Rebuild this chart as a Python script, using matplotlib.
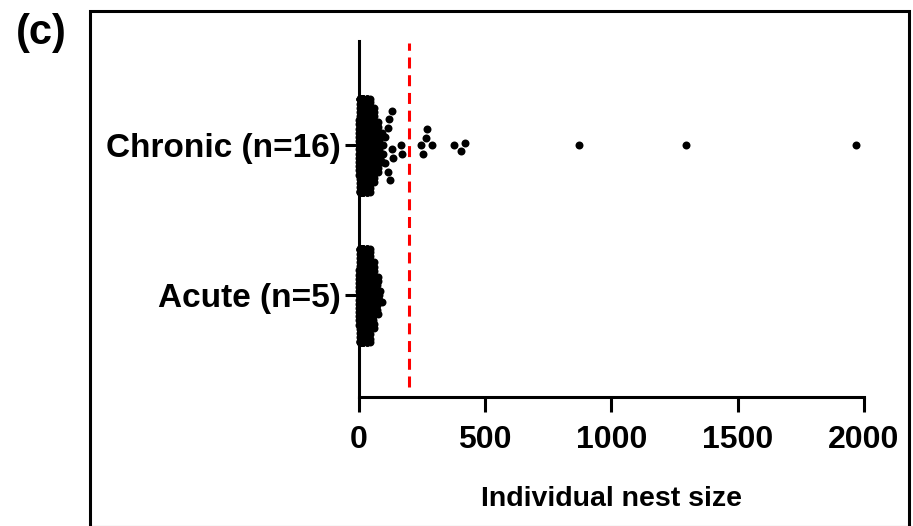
import numpy as np
import matplotlib

matplotlib.use("Agg")
import matplotlib.pyplot as plt

# Individual nest sizes per colony type (value, number of nests with that size)
group_labels = ["Acute (n=5)", "Chronic (n=16)"]

acute_values = [2, 5, 8, 12, 16, 20, 25, 30, 35, 40, 45, 50, 55, 60, 65, 70, 75, 80, 85, 92]
acute_counts = [14, 14, 13, 12, 12, 11, 10, 10, 9, 8, 7, 6, 6, 5, 4, 3, 3, 2, 1, 1]

chronic_values = [
    2, 5, 8, 12, 16, 20, 25, 30, 35, 40, 45, 50, 55, 60, 65, 70, 75, 80, 85, 90,
    96, 104, 114, 119, 123, 129, 133, 165, 172, 244, 252, 265, 268, 288,
    376, 403, 420, 871, 1295, 1968,
]
chronic_counts = [
    14, 14, 13, 12, 12, 11, 10, 10, 9, 8, 7, 7, 6, 6, 5, 4, 4, 3, 3, 2,
    2, 2, 2, 1, 1, 2, 1, 1, 1, 1, 1, 1, 1, 1,
    1, 1, 1, 1, 1, 1,
]
threshold = 200
x_ticks = [0, 500, 1000, 1500, 2000]

acute_sizes = np.repeat(acute_values, acute_counts)
chronic_sizes = np.repeat(chronic_values, chronic_counts)


def beeswarm(values, x_scale, y_scale, diam, half_width):
    """Offsets (data units on the category axis) so dots spaced `diam` px apart
    don't collide; points that don't fit are pushed to the edge."""
    xs = np.asarray(values, dtype=float) * x_scale
    order = np.argsort(xs, kind="stable")
    placed = []
    offs = np.zeros(len(xs))
    hw = half_width * y_scale
    for i in order:
        x = xs[i]
        near = [(px, py) for px, py in placed if abs(px - x) < diam]
        cands = [0.0]
        for px, py in near:
            dy = np.sqrt(diam ** 2 - (px - x) ** 2)
            cands += [py + dy, py - dy]
        cands = sorted(set(cands), key=lambda c: (abs(c), c))
        y = None
        for c in cands:
            if abs(c) > hw:
                continue
            if all((px - x) ** 2 + (py - c) ** 2 >= diam ** 2 - 1e-6 for px, py in near):
                y = c
                break
        if y is None:
            # no room left: squeeze onto the edge of the swarm
            n_edge = sum(1 for px, py in near if abs(abs(py) - hw) < 1e-6)
            y = hw if n_edge % 2 == 0 else -hw
        placed.append((x, y))
        offs[i] = y / y_scale
    return offs


plt.rcParams["font.family"] = ["Liberation Sans", "DejaVu Sans"]
plt.rcParams["font.weight"] = "bold"

fig = plt.figure(figsize=(9.13, 5.26), dpi=100)
ax = fig.add_axes([0.3932, 0.2443, 0.5531, 0.6778])

px_per_x = 505 / 2000
px_per_y = 151
dense_cut = 95
for pos, vals in enumerate([acute_sizes, chronic_sizes]):
    vals = np.asarray(vals)
    offs = np.zeros(len(vals))
    dense = vals <= dense_cut
    # the crowded low values overlap a little, the sparse tail is spread out
    offs[dense] = beeswarm(vals[dense], px_per_x, px_per_y, diam=4.2, half_width=0.31)
    offs[~dense] = beeswarm(vals[~dense], px_per_x, px_per_y, diam=9.0, half_width=0.31)
    ax.scatter(vals, pos + offs, s=33, color="black", linewidths=0, zorder=3,
               clip_on=False)

ax.axvline(threshold, ymin=0.03, ymax=0.993, color="#ff0000", lw=2.2,
           ls=(0, (3.6, 2.2)), zorder=1)

ax.set_xlim(0, 2000)
ax.set_ylim(-0.68, 1.695)
ax.set_xticks(x_ticks)
ax.set_xticklabels([str(t) for t in x_ticks])
ax.set_yticks([0, 1])
ax.set_yticklabels(group_labels)

for side in ["top", "right"]:
    ax.spines[side].set_visible(False)
for side in ["left", "bottom"]:
    ax.spines[side].set_linewidth(2.2)
ax.tick_params(axis="x", width=2.2, length=11, pad=9, labelsize=23)
ax.tick_params(axis="y", width=2.2, length=10, pad=3, labelsize=24)
ax.set_xlabel("Individual nest size", fontsize=20.5, fontweight="bold", labelpad=22)

# panel frame and letter
fig.add_artist(plt.Rectangle((89.5 / 913, -1.0 / 526), (909 - 89.5) / 913, (526 - 11 + 1.0) / 526,
                             transform=fig.transFigure, fill=False, ec="black", lw=2.2))
fig.text(16 / 913, 1 - 33 / 526, "(c)", fontsize=30, fontweight="bold", va="center", ha="left")

fig.savefig("out.png", dpi=100)
